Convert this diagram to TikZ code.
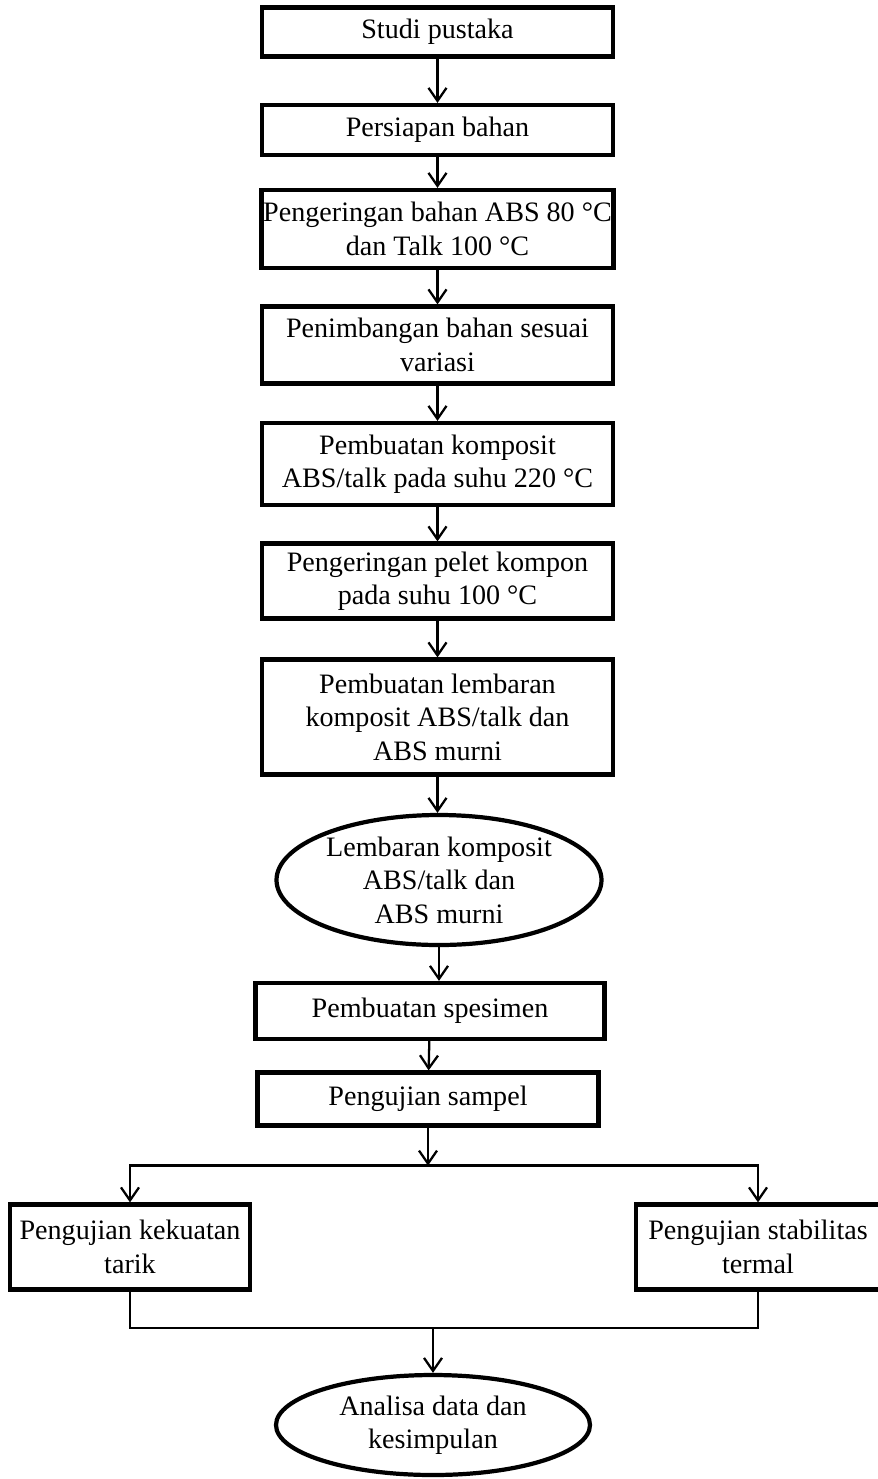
\documentclass[tikz,border=0pt]{standalone}
\usepackage{fontspec}
\setmainfont{Liberation Serif}
\usepackage{tikz}
\usetikzlibrary{positioning, shapes, arrows.meta}

\begin{document}
\begin{tikzpicture}[
    x=1cm, y=1cm,
    every node/.style={align=center, font=\fontsize{16}{19}\selectfont},
    box/.style={draw, rectangle, line width=2.4pt, inner sep=1pt},
    oval/.style={draw, ellipse, line width=2.4pt, inner sep=0pt},
    arr/.style={draw, line width=1.3pt, -{Straight Barb[length=2.6mm, width=3.6mm, line width=1.3pt]}},
    link/.style={draw, line width=1.3pt}
  ]
    \useasboundingbox (0,0) rectangle (17.54,-29.58);

    % main column
    \node[box, minimum width=7.02cm, minimum height=0.98cm] (studi) at (8.75,-0.64) {Studi pustaka};
    \node[box, minimum width=7.02cm, minimum height=1.0cm] (persiapan) at (8.75,-2.6) {Persiapan bahan};
    \node[box, minimum width=7.02cm, minimum height=1.56cm] (kering) at (8.75,-4.58) {Pengeringan bahan ABS 80~°C\\dan Talk 100~°C};
    \node[box, minimum width=7.02cm, minimum height=1.54cm] (timbang) at (8.75,-6.9) {Penimbangan bahan sesuai\\variasi};
    \node[box, minimum width=7.02cm, minimum height=1.64cm] (komposit) at (8.75,-9.28) {Pembuatan komposit\\ABS/talk pada suhu 220~°C};
    \node[box, minimum width=7.02cm, minimum height=1.5cm] (pelet) at (8.75,-11.62) {Pengeringan pelet kompon\\pada suhu 100~°C};
    \node[box, minimum width=7.02cm, minimum height=2.3cm] (lembaran) at (8.75,-14.34) {Pembuatan lembaran\\komposit ABS/talk dan\\ABS murni};
    \node[oval, minimum width=6.5cm, minimum height=2.6cm] (sheet) at (8.78,-17.6) {Lembaran komposit\\ABS/talk dan\\ABS murni};
    \node[box, minimum width=6.98cm, minimum height=1.12cm] (spesimen) at (8.6,-20.22) {Pembuatan spesimen};
    \node[box, minimum width=6.82cm, minimum height=1.06cm] (sampel) at (8.56,-21.98) {Pengujian sampel};

    % tests
    \node[box, minimum width=4.8cm, minimum height=1.7cm] (tarik) at (2.6,-24.94) {Pengujian kekuatan\\tarik};
    \node[box, minimum width=4.88cm, minimum height=1.7cm] (termal) at (15.16,-24.94) {Pengujian stabilitas\\termal};
    \node[oval, minimum width=6.28cm, minimum height=2.0cm] (analisa) at (8.66,-28.5) {Analisa data dan\\kesimpulan};

    \path (sampel.south) ++(0,-0.76) coordinate (split);
    \path (analisa.north) ++(0,0.9) coordinate (join);

    \draw[arr] (studi) -- (persiapan);
    \draw[arr] (persiapan) -- (kering);
    \draw[arr] (kering) -- (timbang);
    \draw[arr] (timbang) -- (komposit);
    \draw[arr] (komposit) -- (pelet);
    \draw[arr] (pelet) -- (lembaran);
    \draw[arr] (lembaran.south) -- (lembaran.south |- sheet.north);
    \draw[arr] (sheet.south) -- (sheet.south |- spesimen.north);
    \draw[arr] (spesimen) -- (sampel);
    \draw[arr] (sampel) -- (split);
    \draw[arr] (split) -| (tarik);
    \draw[arr] (split) -| (termal);
    \draw[link] (tarik) |- (join);
    \draw[link] (termal) |- (join);
    \draw[arr] (join) -- (analisa);
\end{tikzpicture}
\end{document}
